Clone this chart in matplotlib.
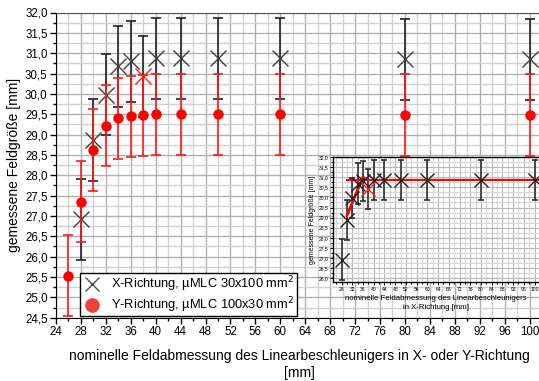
import numpy as np
import matplotlib
matplotlib.use("Agg")
import matplotlib.pyplot as plt
from matplotlib.ticker import MultipleLocator, FuncFormatter
from matplotlib.lines import Line2D

plt.rcParams['font.family'] = ['Liberation Sans', 'DejaVu Sans']

# X-Richtung (µMLC 30x100)
x_nom = [28, 30, 32, 34, 36, 38, 40, 44, 50, 60, 80, 100]
x_meas = [26.92, 28.87, 29.98, 30.68, 30.80, 30.43, 30.87, 30.87, 30.87, 30.87, 30.85, 30.85]
x_err = [1.0] * len(x_nom)

# Y-Richtung (µMLC 100x30)
y_nom = [26, 28, 30, 32, 34, 36, 38, 40, 44, 50, 60, 80, 100]
y_meas = [25.53, 27.35, 28.62, 29.22, 29.40, 29.45, 29.47, 29.50, 29.50, 29.50, 29.50, 29.48, 29.48]
y_err = [1.0] * len(y_nom)

# Ausgleichsgeraden im Inset
fit_rise_x = [30, 36]
fit_rise_y = [29.10, 31.02]
fit_flat_x = [30, 101.5]
fit_flat_y = [30.86, 30.86]

outlier = 38  # abweichender Messpunkt, rot markiert

comma = FuncFormatter(lambda v, p: f"{v:.1f}".replace('.', ','))

fig = plt.figure(figsize=(5.39, 3.81), dpi=100)
ax = fig.add_axes([56 / 539, 1 - 317.7 / 381, 486 / 539, 305.2 / 381])

ax.set_xlim(24, 102)
ax.set_ylim(24.5, 32.0)
ax.xaxis.set_major_locator(MultipleLocator(4))
ax.xaxis.set_minor_locator(MultipleLocator(2))
ax.yaxis.set_major_locator(MultipleLocator(0.5))
ax.yaxis.set_minor_locator(MultipleLocator(0.25))
ax.yaxis.set_major_formatter(comma)
ax.grid(which='major', color='#b0b0b0', lw=1.0, zorder=0)
ax.grid(which='minor', color='#d2d2d2', lw=1.0, zorder=0)
ax.set_axisbelow(True)
ax.tick_params(which='major', direction='out', length=4, width=1, labelsize=8.3, pad=2)
ax.tick_params(which='minor', direction='out', length=2.5, width=1)
ax.spines['right'].set_visible(False)
ax.spines['top'].set_color('#555555')

xm = np.array(x_meas)
xn = np.array(x_nom)
is_out = xn == outlier

ax.errorbar(x_nom, x_meas, yerr=x_err, fmt='none', ecolor='#222222',
            elinewidth=1.2, capsize=3.5, capthick=1.2, zorder=3)
ax.plot(xn[~is_out], xm[~is_out], 'x', color='#404040', ms=11, mew=1.0, zorder=4)
ax.plot(xn[is_out], xm[is_out], 'x', color='#ff2020', ms=11, mew=1.0, zorder=4)

ax.errorbar(y_nom, y_meas, yerr=y_err, fmt='o', color='#ff0000', ms=6.5,
            ecolor='#ff1a1a', elinewidth=1.2, capsize=3.5, capthick=1.2, zorder=5)

ax.set_ylabel('gemessene Feldgröße [mm]', fontsize=10, labelpad=3)
ax.set_xlabel('nominelle Feldabmessung des Linearbeschleunigers in X- oder Y-Richtung\n[mm]',
              fontsize=10, labelpad=8, linespacing=1.3)

handles = [
    Line2D([], [], ls='none', marker='x', color='#505050', ms=10, mew=1.0),
    Line2D([], [], ls='none', marker='o', color='#f04040', ms=9.5),
]
labels = ['X-Richtung, µMLC 30x100 mm$^2$', 'Y-Richtung, µMLC 100x30 mm$^2$']
leg = ax.legend(handles, labels, loc='lower left', bbox_to_anchor=(0.049, 0.004),
                borderaxespad=0, fontsize=9.3, fancybox=False, framealpha=1,
                edgecolor='black', handletextpad=0.7, borderpad=0.15,
                labelspacing=0.05, handlelength=1.6, handleheight=0.6)
leg.get_frame().set_linewidth(1.0)
leg.set_zorder(10)

# Inset: nur X-Richtung mit Ausgleichsgeraden
ins = fig.add_axes([333 / 539, 1 - 282.3 / 381, 205.6 / 539, 125.3 / 381])
ins.set_facecolor('white')
ins.set_zorder(8)
ins.set_xlim(24.8, 101.5)
ins.set_ylim(25.8, 32.0)
ins.xaxis.set_minor_locator(MultipleLocator(2))
ins.set_xticks(np.arange(28, 101, 4))
ins.yaxis.set_major_locator(MultipleLocator(0.5))
ins.yaxis.set_minor_locator(MultipleLocator(0.25))
ins.yaxis.set_major_formatter(comma)
ins.grid(which='major', color='#b8b8b8', lw=0.8)
ins.grid(which='minor', color='#d6d6d6', lw=0.8)
ins.set_axisbelow(True)
ins.tick_params(which='major', direction='out', length=2, width=0.7, labelsize=3.6, pad=1.2)
ins.tick_params(which='minor', direction='out', length=1.2, width=0.7)
for s in ins.spines.values():
    s.set_linewidth(1.0)
ins.spines['right'].set_visible(False)

ins.errorbar(x_nom, x_meas, yerr=x_err, fmt='none', ecolor='#222222',
             elinewidth=1.1, capsize=2.2, capthick=1.1, zorder=3)
ins.plot(fit_flat_x, fit_flat_y, color='#ff0000', lw=1.5, zorder=4)
ins.plot(fit_rise_x, fit_rise_y, color='#ff0000', lw=2.0, zorder=4)
ins.plot(xn[~is_out], xm[~is_out], 'x', color='#222222', ms=10, mew=1.0, zorder=5)
ins.plot(xn[is_out], xm[is_out], 'x', color='#ff2020', ms=10, mew=1.0, zorder=5)

ins.set_ylabel('gemessene Feldgröße [mm]', fontsize=5.0, labelpad=2)
ins.set_xlabel('nominelle Feldabmessung des Linearbeschleunigers\nin X-Richtung [mm]',
               fontsize=5.6, labelpad=2, linespacing=1.4)

fig.savefig('out.png', dpi=100)
